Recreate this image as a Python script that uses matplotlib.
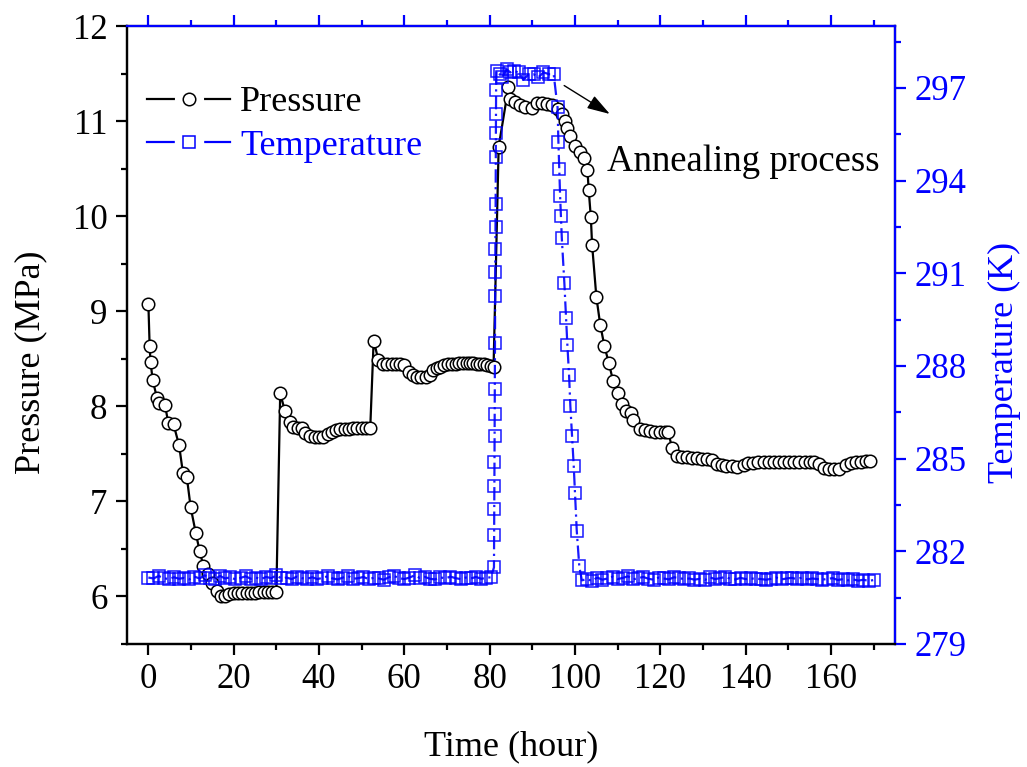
import matplotlib
matplotlib.use('Agg')
import matplotlib.pyplot as plt
from matplotlib.lines import Line2D
from matplotlib.legend_handler import HandlerTuple
from matplotlib.ticker import MultipleLocator

plt.rcParams['font.family'] = ['Liberation Serif', 'DejaVu Serif']

# pressure (MPa) vs time (hour)
t_p1 = [0, 0.3, 0.5, 1.0, 2.0, 2.6, 3.9, 4.7, 5.9, 7.2, 8.1, 9.0, 9.9, 11.1, 12.0, 12.9,
        14.0, 15.0, 16.0, 17.0, 18.0, 19.0, 20.0, 21.0, 22.0, 23.0, 24.0, 25.0, 26.0,
        27.0, 28.0, 29.0, 30.0]
p1 = [9.08, 8.63, 8.47, 8.28, 8.09, 8.04, 8.01, 7.82, 7.81, 7.59, 7.30, 7.26, 6.94, 6.67,
      6.48, 6.32, 6.24, 6.14, 6.06, 6.00, 6.00, 6.03, 6.04, 6.04, 6.04, 6.04, 6.04, 6.04,
      6.05, 6.05, 6.05, 6.05, 6.05]
t_p2 = [30.9, 32.0, 33.1, 34.0, 35.0, 36.0, 36.8, 37.9, 39.0, 40.0, 41.0, 42.0, 43.0,
        44.0, 45.0, 46.0, 47.0, 48.0, 49.0, 50.0, 51.0, 52.0]
p2 = [8.14, 7.95, 7.84, 7.78, 7.77, 7.77, 7.72, 7.69, 7.68, 7.68, 7.68, 7.71, 7.73, 7.75,
      7.76, 7.76, 7.76, 7.77, 7.77, 7.77, 7.77, 7.77]
t_p3 = [52.8, 53.9, 55.0, 56.0, 57.0, 58.0, 59.0, 60.0, 61.0, 62.0, 63.0, 64.0, 65.0,
        66.0, 66.8, 67.6, 68.4, 69.3, 70.2, 71.1, 72.0, 72.9, 73.8, 74.6, 75.4, 76.2,
        77.0, 77.8, 78.6, 79.4, 80.2, 80.9]
p3 = [8.69, 8.49, 8.45, 8.44, 8.44, 8.44, 8.44, 8.43, 8.36, 8.33, 8.31, 8.31, 8.31, 8.33,
      8.38, 8.40, 8.41, 8.43, 8.44, 8.45, 8.45, 8.46, 8.46, 8.46, 8.46, 8.46, 8.45, 8.44,
      8.44, 8.43, 8.42, 8.41]
t_p4 = [82.1, 84.4, 84.8, 86.0, 87.2, 88.3, 89.9, 91.1, 92.2, 93.4, 94.6, 95.9, 96.9,
        97.7, 98.1, 98.9, 100.0, 101.2, 102.0, 102.9, 103.2, 103.7, 104.0, 105.0, 105.9,
        106.9, 107.9, 108.9, 110.0, 111.0, 112.0, 113.1, 113.7, 115.3, 116.5, 117.6,
        118.7, 119.8, 121.0, 121.9, 122.7, 123.9, 125.0, 126.2, 127.4, 128.6, 129.8,
        131.0, 132.1, 133.3, 134.4, 135.5, 136.7, 138.0, 139.5, 140.6, 141.8, 143.0,
        144.2, 145.4, 146.6, 147.8, 149.0, 150.2, 151.4, 152.6, 153.8, 155.0, 155.9,
        157.1, 158.3, 159.5, 160.7, 161.8, 163.4, 164.6, 165.8, 167.0, 168.2, 169.2]
p4 = [10.73, 11.36, 11.23, 11.20, 11.17, 11.15, 11.14, 11.19, 11.19, 11.18, 11.17, 11.13,
      11.08, 11.00, 10.93, 10.84, 10.74, 10.68, 10.61, 10.49, 10.28, 9.99, 9.70, 9.15,
      8.86, 8.63, 8.46, 8.27, 8.14, 8.02, 7.95, 7.93, 7.86, 7.76, 7.75, 7.74, 7.73, 7.73,
      7.73, 7.73, 7.56, 7.48, 7.47, 7.47, 7.46, 7.46, 7.45, 7.45, 7.44, 7.39, 7.38, 7.37,
      7.37, 7.36, 7.38, 7.40, 7.40, 7.41, 7.41, 7.41, 7.41, 7.41, 7.41, 7.41, 7.41, 7.41,
      7.41, 7.41, 7.41, 7.39, 7.35, 7.34, 7.34, 7.34, 7.38, 7.40, 7.41, 7.41, 7.42, 7.43]

# temperature (K) vs time (hour)
t_t1 = [0.0, 1.2, 2.4, 3.6, 4.8, 6.0, 7.2, 8.4, 9.6, 10.8, 12.0, 13.2, 14.4, 15.6, 16.8,
        18.0, 19.2, 20.4, 21.6, 22.8, 24.0, 25.2, 26.4, 27.6, 28.8, 30.0, 31.2, 32.4,
        33.6, 34.8, 36.0, 37.2, 38.4, 39.6, 40.8, 42.0, 43.2, 44.4, 45.6, 46.8, 48.0,
        49.2, 50.4, 51.6, 52.8, 54.0, 55.2, 56.4, 57.6, 58.8, 60.0, 61.2, 62.4, 63.6,
        64.8, 66.0, 67.2, 68.4, 69.6, 70.8, 72.0, 73.2, 74.4, 75.6, 76.8, 78.0, 79.2, 80.3]
temp1 = [281.15, 281.12, 281.20, 281.13, 281.10, 281.16, 281.11, 281.14, 281.09, 281.18,
         281.12, 281.22, 281.14, 281.10, 281.20, 281.12, 281.16, 281.09, 281.14, 281.19,
         281.11, 281.15, 281.10, 281.17, 281.13, 281.22, 281.12, 281.15, 281.10, 281.18,
         281.13, 281.11, 281.16, 281.10, 281.14, 281.19, 281.12, 281.09, 281.15, 281.20,
         281.11, 281.13, 281.17, 281.10, 281.14, 281.12, 281.08, 281.16, 281.20, 281.13,
         281.10, 281.15, 281.22, 281.14, 281.17, 281.11, 281.09, 281.16, 281.12, 281.18,
         281.13, 281.10, 281.15, 281.12, 281.17, 281.11, 281.14, 281.16]
t_t2 = [81.0, 81.03, 81.06, 81.09, 81.12, 81.15, 81.18, 81.21, 81.24, 81.27, 81.3, 81.33,
        81.36, 81.39, 81.42, 81.45, 81.48, 81.5]
temp2 = [281.48, 282.54, 283.37, 284.12, 284.88, 285.74, 286.44, 287.25, 288.74, 290.25,
         291.04, 291.78, 292.49, 293.24, 294.77, 295.54, 296.15, 296.93]
t_t3 = [81.6, 82.3, 82.9, 84.0, 84.8, 85.6, 86.8, 87.9, 89.1, 90.3, 91.4, 92.6, 94.0, 95.0]
temp3 = [297.55, 297.45, 297.34, 297.60, 297.50, 297.55, 297.50, 297.26, 297.44, 297.44,
         297.34, 297.50, 297.44, 297.44]
t_t4 = [95.9, 96.1, 96.3, 96.5, 96.7, 96.9, 97.5, 97.9, 98.2, 98.6, 98.9, 99.3, 99.7,
        100.0, 100.4, 101.0]
temp4 = [296.37, 295.26, 294.37, 293.51, 292.86, 292.14, 290.68, 289.54, 288.69, 287.70,
         286.71, 285.74, 284.75, 283.89, 282.67, 281.51]
t_t5 = [101.6, 102.8, 104.0, 105.2, 106.4, 107.6, 108.8, 110.0, 111.2, 112.4, 113.6, 114.8,
        116.0, 117.2, 118.4, 119.6, 120.8, 122.0, 123.2, 124.4, 125.6, 126.8, 128.0, 129.2,
        130.4, 131.6, 132.8, 134.0, 135.2, 136.4, 137.6, 138.8, 140.0, 141.2, 142.4, 143.6,
        144.8, 146.0, 147.2, 148.4, 149.6, 150.8, 152.0, 153.2, 154.4, 155.6, 156.8, 158.0,
        159.2, 160.4, 161.6, 162.8, 164.0, 165.2, 166.4, 167.6, 168.8, 170.0]
temp5 = [281.06, 281.10, 281.04, 281.15, 281.08, 281.12, 281.18, 281.10, 281.14, 281.19,
         281.09, 281.13, 281.17, 281.11, 281.08, 281.15, 281.12, 281.09, 281.16, 281.13,
         281.10, 281.12, 281.08, 281.11, 281.07, 281.16, 281.10, 281.13, 281.17, 281.11,
         281.09, 281.14, 281.10, 281.12, 281.11, 281.10, 281.08, 281.11, 281.15, 281.09,
         281.12, 281.14, 281.10, 281.15, 281.09, 281.12, 281.10, 281.08, 281.11, 281.13,
         281.07, 281.10, 281.06, 281.09, 281.05, 281.08, 281.04, 281.07]

t_p = t_p1 + t_p2 + t_p3 + t_p4
pressure = p1 + p2 + p3 + p4
t_t = t_t1 + t_t2 + t_t3 + t_t4 + t_t5
temperature = temp1 + temp2 + temp3 + temp4 + temp5

BLUE = '#0000FF'
FS = 25
MS = 9

fig = plt.figure(figsize=(10.27, 7.67), dpi=100)
ax = fig.add_axes([0.1237, 0.1604, 0.7478, 0.8056])
ax2 = ax.twinx()

ax.plot(t_p, pressure, color='k', lw=1.6, marker='o', ms=MS, mfc='white', mec='k', mew=1.1)
ax2.plot(t_t, temperature, color=BLUE, lw=1.6, ls=(0, (6, 2, 1, 2)), marker='s', ms=MS,
         mfc='none', mec=BLUE, mew=1.1, alpha=0.9)

ax.set_xlim(-5, 175)
ax.set_ylim(5.5, 12)
ax2.set_ylim(279, 299)

ax.set_xticks(range(0, 161, 20))
ax.xaxis.set_minor_locator(MultipleLocator(10))
ax.set_yticks([6, 7, 8, 9, 10, 11, 12])
ax.yaxis.set_minor_locator(MultipleLocator(0.5))
ax2.set_yticks([279, 282, 285, 288, 291, 294, 297])
ax2.yaxis.set_minor_locator(MultipleLocator(1.5))

ax.tick_params(axis='both', which='major', direction='out', length=8, width=1.6,
               labelsize=FS, pad=6, colors='k')
ax.tick_params(axis='both', which='minor', direction='out', length=4.5, width=1.6)
ax.tick_params(axis='x', top=False)

ax2.tick_params(axis='y', which='major', direction='out', length=8, width=1.6,
                labelsize=FS, pad=6, color=BLUE, labelcolor=BLUE)
ax2.tick_params(axis='y', which='minor', direction='out', length=4.5, width=1.6, color=BLUE)
# top ticks in blue
ax2.xaxis.set_visible(True)
ax2.tick_params(axis='x', which='both', bottom=False, top=True, labelbottom=False,
                labeltop=False, direction='out', width=1.6, color=BLUE)
ax2.tick_params(axis='x', which='major', length=8)
ax2.tick_params(axis='x', which='minor', length=4.5)

for a in (ax, ax2):
    for s in a.spines.values():
        s.set_linewidth(1.6)
ax2.spines['right'].set_color(BLUE)
ax2.spines['top'].set_color(BLUE)

ax.set_xlabel('Time (hour)', fontsize=26)
ax.set_ylabel('Pressure (MPa)', fontsize=26)
ax2.set_ylabel('Temperature (K)', fontsize=26, color=BLUE)
ax.xaxis.set_label_coords(0.5, -0.14)
ax.yaxis.set_label_coords(-0.104, 0.456)
ax2.yaxis.set_label_coords(1.121, 0.456)

ax.annotate('', xy=(108.7, 11.06), xytext=(96.9, 11.39),
            arrowprops=dict(arrowstyle='-|>,head_length=0.7,head_width=0.22',
                            color='k', lw=1.0, mutation_scale=20))
ax.text(107.5, 10.57, 'Annealing process', fontsize=26.5, ha='left', va='center')

# legend: line with a gap around the marker
h_p = (Line2D([], [], color='k', lw=1.6),
       Line2D([], [], ls='none', marker='o', ms=20, mfc='white', mec='white'),
       Line2D([], [], ls='none', marker='o', ms=MS, mfc='white', mec='k', mew=1.1))
h_t = (Line2D([], [], color=BLUE, lw=1.6),
       Line2D([], [], ls='none', marker='s', ms=20, mfc='white', mec='white'),
       Line2D([], [], ls='none', marker='s', ms=MS, mfc='white', mec=BLUE, mew=1.1))
leg = ax2.legend([h_p, h_t], ['Pressure', 'Temperature'], loc='upper left',
                 bbox_to_anchor=(0.026, 0.903), frameon=False, fontsize=26,
                 handlelength=2.3, handletextpad=0.28, labelspacing=0.28,
                 borderaxespad=0, borderpad=0, numpoints=1,
                 handler_map={tuple: HandlerTuple(ndivide=1, pad=0)})
leg.get_texts()[1].set_color(BLUE)

fig.savefig('out.png', dpi=100)
